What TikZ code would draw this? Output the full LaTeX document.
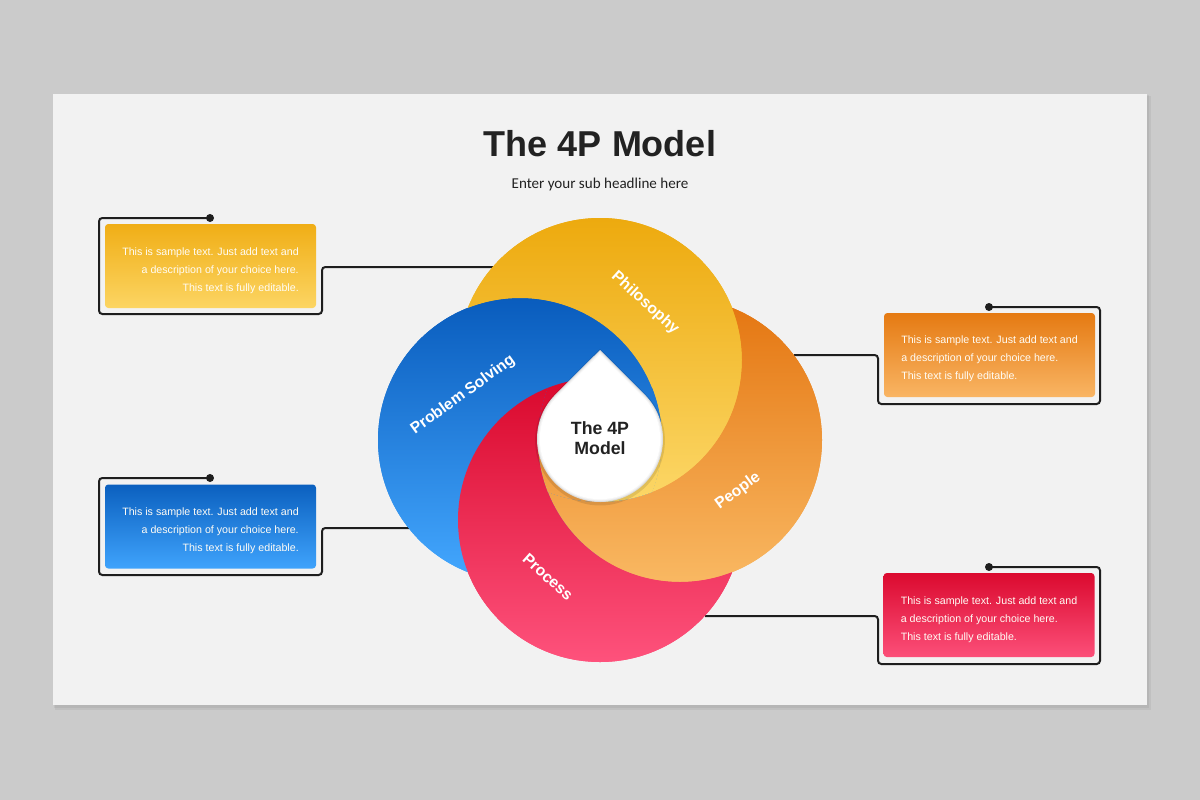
\documentclass[tikz,border=0pt]{standalone}
\usepackage{fontspec}
\setmainfont{Liberation Sans}
\newfontfamily\subfont{Carlito}
\definecolor{bgc}{HTML}{CBCBCB}
\definecolor{slidec}{HTML}{F2F2F2}
\definecolor{linec}{HTML}{1E1E1E}
\definecolor{titlec}{HTML}{222222}
\definecolor{Yt}{HTML}{EDAA0E}
\definecolor{Yb}{HTML}{FCD767}
\definecolor{Ot}{HTML}{E47510}
\definecolor{Ob}{HTML}{F9B862}
\definecolor{Bt}{HTML}{095CBD}
\definecolor{Bb}{HTML}{44A8FF}
\definecolor{Rt}{HTML}{D9082C}
\definecolor{Rb}{HTML}{FE527C}
\definecolor{YBt}{HTML}{F0AE16}
\definecolor{YBb}{HTML}{FCD563}
\definecolor{OBt}{HTML}{E57A12}
\definecolor{OBb}{HTML}{F9B564}
\definecolor{BBt}{HTML}{0B60BF}
\definecolor{BBb}{HTML}{3FA3FC}
\definecolor{RBt}{HTML}{DB0A2F}
\definecolor{RBb}{HTML}{FC4F79}
\definecolor{boxtext}{HTML}{FFFCF5}
\tikzset{
  pY/.style={insert path={(600,360) circle[radius=106.5pt]}},
  pO/.style={insert path={(680,440) circle[radius=106.5pt]}},
  pR/.style={insert path={(600,520) circle[radius=106.5pt]}},
  pB/.style={insert path={(520,440) circle[radius=106.5pt]}},
  bigrect/.style={insert path={(-100,-100) -- (1300,-100) -- (1300,900) -- (-100,900) -- cycle}},
  yshade/.style={top color=Yt, bottom color=Yb},
  oshade/.style={top color=Ot, bottom color=Ob},
  rshade/.style={top color=Rt, bottom color=Rb},
  bshade/.style={top color=Bt, bottom color=Bb},
  dropp/.style={insert path={(0,89) -- (44.55,44.55) arc[start angle=45, end angle=-225, radius=47.25pt] -- cycle}},
  conn/.style={draw=linec, line width=1.5pt, rounded corners=2.5pt},
  dotc/.style={fill=linec},
  box/.style={rectangle, rounded corners=2.5pt, minimum width=158.25pt, minimum height=63pt, inner sep=0pt},
  boxtxt/.style={text=boxtext, font=\fontsize{8}{13.5}\selectfont, inner sep=0pt},
  lab/.style={text=white, font=\bfseries\fontsize{11.8}{14}\selectfont},
}
\begin{document}
\begin{tikzpicture}[x=0.75pt, y=-0.75pt]
\useasboundingbox (0,0) rectangle (1200,800);
\fill[bgc] (0,0) rectangle (1200,800);
% slide with soft shadow
\fill[black, opacity=0.05] (55,96) rectangle (1151,710);
\fill[black, opacity=0.05] (54,95) rectangle (1149,708);
\fill[slidec] (53,94) rectangle (1147,705);

% title
\node[anchor=base, text=titlec, font=\bfseries\fontsize{27}{30}\selectfont] (title) at (600,156) {The 4P Model};
\node[anchor=base, text=titlec, font=\subfont\fontsize{11.3}{13}\selectfont] (subtitle) at (600,188) {Enter your sub headline here};

% connector coordinates
\coordinate (d1) at (210,218); \coordinate (e1) at (493,267);
\coordinate (d2) at (210,478); \coordinate (e2) at (409,528);
\coordinate (d3) at (989,307); \coordinate (e3) at (794,355);
\coordinate (d4) at (989,567); \coordinate (e4) at (705,616);

\draw[conn] (d1) -- (99,218) -- (99,314) -- (322,314) -- (322,267) -- (e1);
\draw[conn] (d2) -- (99,478) -- (99,575) -- (322,575) -- (322,528) -- (e2);
\draw[conn] (d3) -- (1100,307) -- (1100,404) -- (878,404) -- (878,355) -- (e3);
\draw[conn] (d4) -- (1100,567) -- (1100,664) -- (878,664) -- (878,616) -- (e4);
\fill[dotc] (d1) circle[radius=3pt];
\fill[dotc] (d2) circle[radius=3pt];
\fill[dotc] (d3) circle[radius=3pt];
\fill[dotc] (d4) circle[radius=3pt];

% boxes
\node[box, top color=YBt, bottom color=YBb] (b1) at (210.5,266) {};
\node[box, top color=BBt, bottom color=BBb] (b2) at (210.5,526.5) {};
\node[box, top color=OBt, bottom color=OBb] (b3) at (989.5,355) {};
\node[box, top color=RBt, bottom color=RBb] (b4) at (989,615) {};
\node[boxtxt, align=right] (t1) at (210.5,271) {This is sample text. Just add text and\\a description of your choice here.\\This text is fully editable.};
\node[boxtxt, align=right] (t2) at (210.5,531) {This is sample text. Just add text and\\a description of your choice here.\\This text is fully editable.};
\node[boxtxt, align=left] (t3) at (989.5,359) {This is sample text. Just add text and\\a description of your choice here.\\This text is fully editable.};
\node[boxtxt, align=left] (t4) at (989,620) {This is sample text. Just add text and\\a description of your choice here.\\This text is fully editable.};

% pinwheel: underlay
\shade[pR, rshade];
\shade[pO, oshade];
\shade[pY, yshade];
\shade[pB, bshade];
% each circle is on top wherever the circle above it is absent
\begin{scope}
  \clip[pB]; \clip[bigrect, pR];
  \shade[pB, bshade];
\end{scope}
\begin{scope}
  \clip[pY]; \clip[bigrect, pB];
  \shade[pY, yshade];
\end{scope}
\begin{scope}
  \clip[pO]; \clip[bigrect, pY];
  \shade[pO, oshade];
\end{scope}
\begin{scope}
  \clip[pR]; \clip[bigrect, pO];
  \shade[pR, rshade];
\end{scope}
% centre region where all four overlap
\begin{scope}
  \clip[pB]; \clip[pY]; \clip[pO]; \clip[pR];
  \begin{scope}\clip (600,440) rectangle (720,320); \shade[pB, bshade]; \end{scope}
  \begin{scope}\clip (600,440) rectangle (720,560); \shade[pY, yshade]; \end{scope}
  \begin{scope}\clip (600,440) rectangle (480,560); \shade[pO, oshade]; \end{scope}
  \begin{scope}\clip (600,440) rectangle (480,320); \shade[pR, rshade]; \end{scope}
\end{scope}

% labels
\node[lab, rotate=-42] (lphil) at (645,303) {Philosophy};
\node[lab, rotate=36] (lprob) at (463,395) {Problem Solving};
\node[lab, rotate=36] (lpeop) at (738,491) {People};
\node[lab, rotate=-42] (lproc) at (548,577) {Process};

% drop
\begin{scope}[shift={(600,439)}, x=0.75pt, y=0.75pt]
  \fill[black, opacity=0.10, yshift=-1.2pt, scale=1.03, dropp];
  \foreach \sa/\va in {1/70, 0.99/80, 0.98/88, 0.97/94, 0.955/100}
    \fill[white!\va!gray, scale=\sa, dropp];
\end{scope}
\node[align=center, text=titlec, font=\bfseries\fontsize{13.3}{15}\selectfont] (centre) at (600,438) {The 4P\\Model};
\end{tikzpicture}
\end{document}
